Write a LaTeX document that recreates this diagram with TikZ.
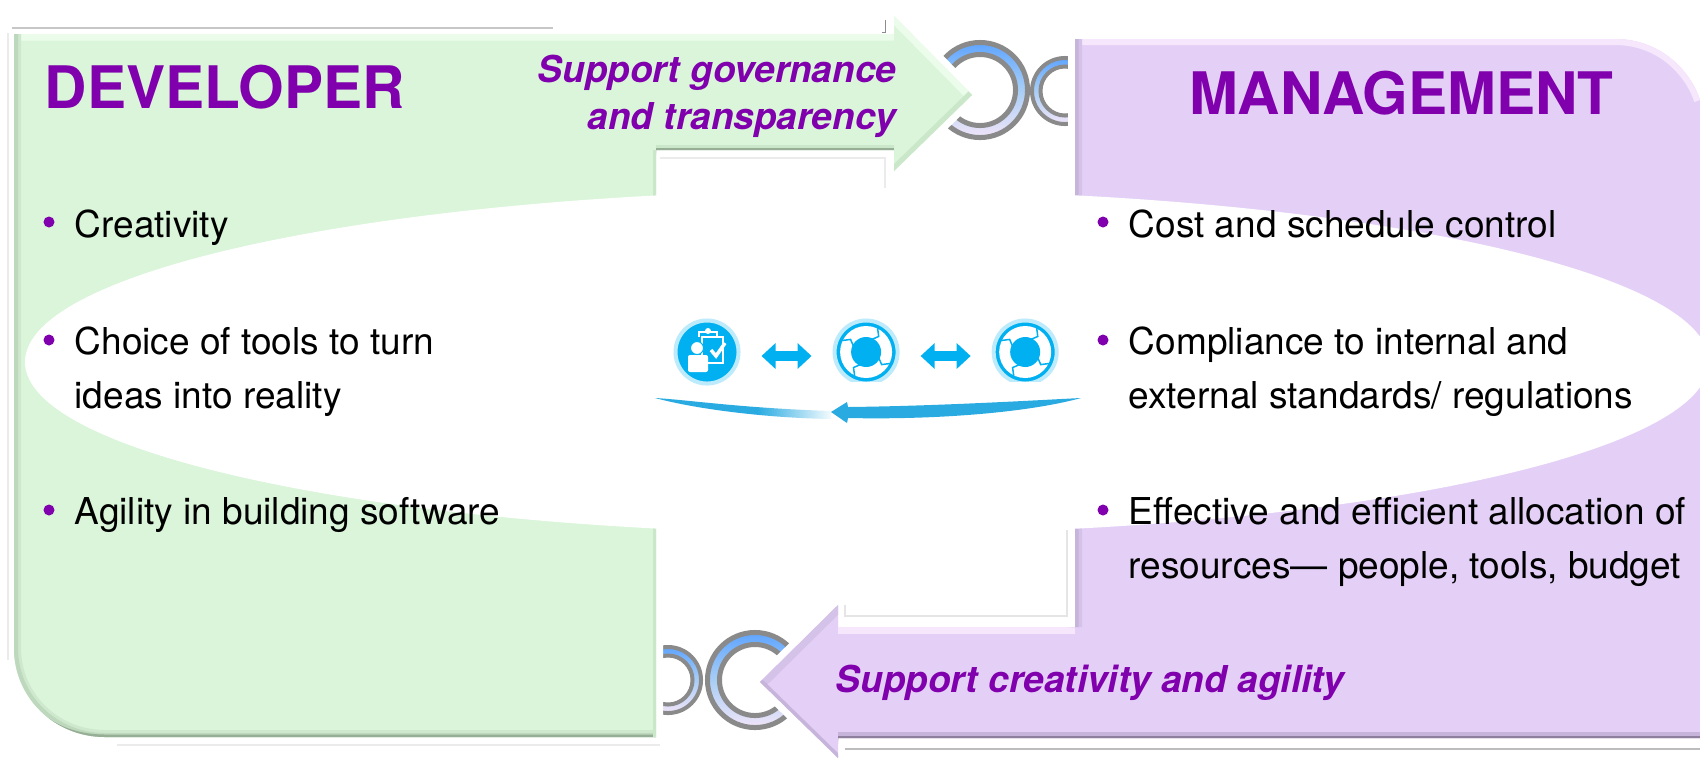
\documentclass[tikz,border=0pt]{standalone}
\usepackage{fontspec}
\setmainfont{TeX Gyre Heros}
\usepackage{xcolor}
\usepackage{tikz}
\usetikzlibrary{arrows.meta}
\usetikzlibrary{positioning}

\definecolor{devgreen}{HTML}{DAF5D9}
\definecolor{devlight}{HTML}{EBFCEA}
\definecolor{devmid}{HTML}{BDD8BC}
\definecolor{devdark}{HTML}{96AE95}
\definecolor{mgrpurple}{HTML}{E4D0F6}
\definecolor{mgrlight}{HTML}{F6E7FD}
\definecolor{mgrmid}{HTML}{C6B4DA}
\definecolor{mgrdark}{HTML}{8F7F9F}
\definecolor{headpurple}{HTML}{7F00AC}
\definecolor{iconblue}{HTML}{00B0F0}
\definecolor{iconhalo}{HTML}{BDEBFB}
\definecolor{sweepblue}{HTML}{29ABE2}
\definecolor{ringgray}{HTML}{8A8A8A}
\definecolor{ringtop}{HTML}{5FA5FF}
\definecolor{ringmid}{HTML}{A8CEF6}
\definecolor{ringlow}{HTML}{F0E4F8}

\def\devpath{(14,34) -- (894,34) -- (894,16) -- (972,95) -- (894,171) -- (894,150) -- (656,150) -- (656,737) -- (105,737) .. controls (55,737) and (14,698) .. (14,648) -- cycle}
\def\mgrpath{(1075,39) -- (1615,39) .. controls (1660,39) and (1690,70) .. (1700,100) -- (1700,738) -- (838,738) -- (838,758) -- (760,682) -- (838,605) -- (838,627) -- (1075,627) -- cycle}
\def\sweeptail{(655,398) .. controls (690,400) and (740,408) .. (831,411) -- (831,419) .. controls (770,418) and (700,410) .. (655,398) -- cycle}

\newcommand{\cyclearcs}[1]{
	\begin{scope}[shift={(#1)}]
		\fill[white] (0,0) circle (26);
		\fill[iconblue] (0,0) circle (15);
		\foreach \a in {25,115,205,295}
			\draw[iconblue, line width=0.015cm] (\a:14) -- (\a+14:20) -- (\a:27);
	\end{scope}
}

\begin{document}
\begin{tikzpicture}[x=0.01cm,y=-0.01cm,node distance=1.59cm]
	\tikzstyle{item}=[anchor=base west, inner sep=0pt, align=left, font=\fontsize{10.53}{15.08}\selectfont]
	\tikzstyle{headline}=[inner sep=0pt, text=headpurple, font=\fontsize{16.67}{20}\selectfont\bfseries]
	\tikzstyle{slogan}=[inner sep=0pt, text=headpurple, font=\fontsize{10.53}{13.09}\selectfont\bfseries\itshape]
	\tikzstyle{pointdot}=[circle, fill=headpurple, inner sep=0pt, minimum size=0.11cm]
	\tikzstyle{outerring}=[circle, draw=ringgray, inner sep=0pt, line width=0.05cm, top color=ringtop, bottom color=ringlow, middle color=ringmid]
	\tikzstyle{innerring}=[circle, draw=ringgray, fill=white, inner sep=0pt, line width=0.05cm]
	\tikzstyle{iconball}=[circle, fill=iconblue, draw=iconhalo, inner sep=0pt, line width=0.04cm, minimum size=0.63cm]
	\tikzstyle{bothway}=[draw=iconblue, line width=0.1cm, shorten >=0.21cm, shorten <=0.21cm, {Triangle[length=0.14cm,width=0.25cm]}-{Triangle[length=0.14cm,width=0.25cm]}]

	\clip (0,0) rectangle (1700,760);

	% rings behind the two arrow heads
	\node[outerring, minimum size=0.95cm] (ringa) at (980,90) {};
	\node[innerring, minimum size=0.71cm] (ringai) at (980,90) {};
	\node[outerring, minimum size=0.66cm, line width=0.04cm] (ringb) at (1065,91) {};
	\node[innerring, minimum size=0.49cm, line width=0.04cm] (ringbi) at (1065,91) {};
	\node[outerring, minimum size=0.95cm] (ringc) at (755,680) {};
	\node[innerring, minimum size=0.71cm] (ringci) at (755,680) {};
	\node[outerring, minimum size=0.66cm, line width=0.04cm] (ringd) at (668,680) {};
	\node[innerring, minimum size=0.49cm, line width=0.04cm] (ringdi) at (668,680) {};

	% developer side
	\draw[white, line width=0.14cm] \devpath;
	\fill[devgreen] \devpath;
	\begin{scope}
		\clip \devpath;
		\draw[devlight, line width=0.13cm] (14,34) -- (894,34) (894,16) -- (972,95);
		\draw[devmid!45!devgreen, line width=0.14cm] (14,34) -- (14,648) .. controls (14,698) and (55,737) .. (105,737) -- (656,737);
		\draw[devmid, line width=0.08cm] (14,34) -- (14,648) .. controls (14,698) and (55,737) .. (105,737) -- (656,737);
		\draw[devmid!50!devgreen, line width=0.1cm] (656,150) -- (894,150) (972,95) -- (894,171);
		\draw[devdark, line width=0.05cm] (14,670) .. controls (22,708) and (55,737) .. (105,737) -- (656,737);
		\draw[devdark, line width=0.05cm] (656,150) -- (894,150);
		\draw[devmid!50!devgreen, line width=0.07cm] (656,150) -- (656,737);
	\end{scope}

	% management side
	\draw[white, line width=0.14cm] \mgrpath;
	\fill[mgrpurple] \mgrpath;
	\begin{scope}
		\clip \mgrpath;
		\draw[mgrlight, line width=0.12cm] (1075,39) -- (1615,39) .. controls (1660,39) and (1690,70) .. (1700,100);
		\draw[mgrlight, line width=0.14cm] (838,627) -- (1075,627);
		\draw[mgrmid!50!mgrpurple, line width=0.14cm] (1075,39) -- (1075,627) (838,605) -- (760,682);
		\draw[mgrmid, line width=0.07cm] (1075,39) -- (1075,627) (760,682) -- (838,758);
		\draw[mgrmid, line width=0.12cm] (838,738) -- (1700,738);
		\draw[mgrdark, line width=0.05cm] (838,738) -- (1700,738);
	\end{scope}

	% white oval through the middle
	\fill[white] (867,362) ellipse [x radius=842, y radius=172];

	% thin leftovers round the shapes
	\draw[black!22, line width=0.02cm] (12,28) -- (553,28);
	\draw[black!8, line width=0.02cm] (8,33) -- (8,660) (117,745) -- (660,745) (660,158) -- (885,158) -- (885,188);
	\draw[black!45, line width=0.01cm] (882,32) -- (885,32) -- (885,20);
	\draw[black!26, line width=0.02cm] (845,749) -- (1700,749);
	\draw[black!10, line width=0.02cm] (845,605) -- (845,616) -- (1067,616) -- (1067,530);

	% titles
	\node[headline, anchor=base west] (dev) at (44,108) {DEVELOPER};
	\node[headline, anchor=base east] (mgr) at (1614,114) {MANAGEMENT};
	\node[slogan, anchor=base east, align=right] (gov) at (897,129) {Support governance\\and transparency};
	\node[slogan, anchor=base west] (agi) at (835,692) {Support creativity and agility};

	% developer points
	\node[pointdot] (da) at (49,222) {};
	\node[pointdot] (db) at (49,340) {};
	\node[pointdot] (dc) at (49,510) {};
	\node[item] (cre) at (74,237) {Creativity};
	\node[item] (cho) at (74,408) {Choice of tools to turn\\ideas into reality};
	\node[item] (agl) at (74,524) {Agility in building software};

	% management points
	\node[pointdot] (ma) at (1103,222) {};
	\node[pointdot] (mb) at (1103,340) {};
	\node[pointdot] (mc) at (1103,510) {};
	\node[item] (cos) at (1128,237) {Cost and schedule control};
	\node[item] (com) at (1128,408) {Compliance to internal and\\external standards/ regulations};
	\node[item] (eff) at (1128,578) {Effective and efficient allocation of\\resources--- people, tools, budget};

	% icons in the middle
	\node[iconball] (icona) at (707,352) {};
	\node[iconball] (iconb) [right of=icona] {};
	\node[iconball] (iconc) [right of=iconb] {};
	\draw[bothway] ([yshift=-0.04cm]icona.east) -- ([yshift=-0.04cm]iconb.west);
	\draw[bothway] ([yshift=-0.04cm]iconb.east) -- ([yshift=-0.04cm]iconc.west);
	\cyclearcs{iconb}
	\cyclearcs{iconc}
	\fill[white] (830,382) rectangle (1065,390);
	% person and clipboard
	\draw[white, line width=0.02cm] (702,337) rectangle (723,363);
	\draw[white, line width=0.02cm] (699,337) -- (699,332) -- (717,332) -- (717,337);
	\fill[white] (708,331) circle (3);
	\fill[white, rounded corners=0.02cm] (688,355) rectangle (708,372);
	\fill[white, draw=iconblue, line width=0.01cm] (697,348) circle (6.5);
	\draw[white, line width=0.035cm] (711,350) -- (716,356) -- (725,343);

	% sweep under the icons
	\begin{scope}
		\clip \sweeptail;
		\fill[sweepblue] (650,390) rectangle (757,425);
		\shade[left color=sweepblue, right color=white] (757,390) rectangle (835,425);
	\end{scope}
	\fill[sweepblue] (1081,398) .. controls (1040,400) and (940,406) .. (848,407) -- (847,402) -- (831,412) -- (847,423) -- (848,418) .. controls (940,420) and (1030,412) .. (1081,398) -- cycle;
\end{tikzpicture}
\end{document}
